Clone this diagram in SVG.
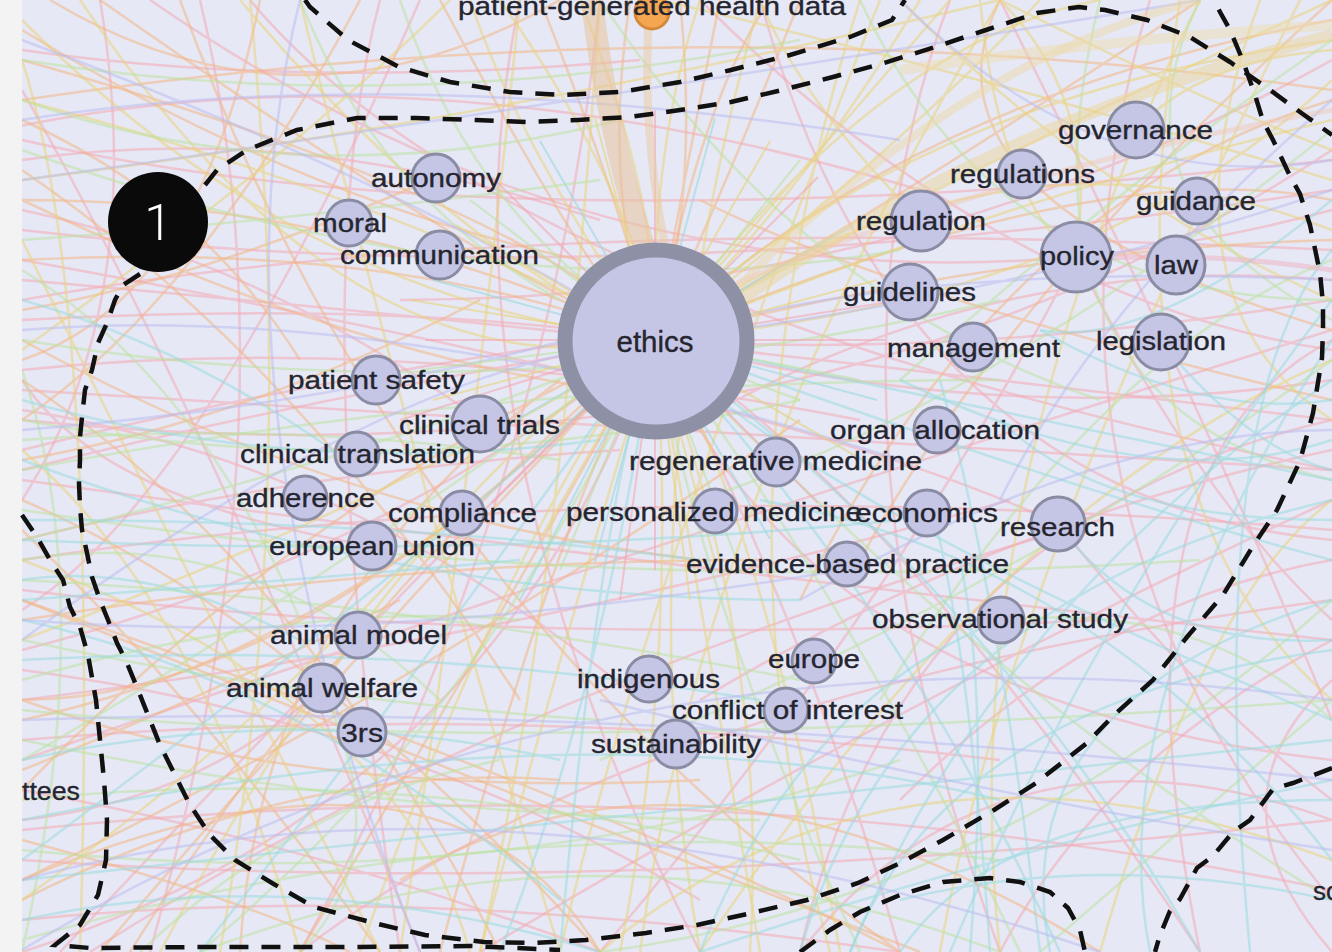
<svg xmlns="http://www.w3.org/2000/svg" width="1332" height="952" viewBox="0 0 1332 952">
<style>
.e{fill:none;stroke-width:2.5;opacity:.55}
.p{stroke:#f2a9b4}.o{stroke:#f3b685}.y{stroke:#ead47a}.g{stroke:#bde2a2}.c{stroke:#9bdade}.l{stroke:#b9bdee}
.d{fill:none;stroke:#111;stroke-width:4.5;stroke-dasharray:19 13}
.n{fill:#c5c6e6;stroke:#8a8ca4;stroke-width:3}
.t{font-family:"Liberation Sans",Arial,sans-serif;font-size:26px;fill:#25252f;stroke:#25252f;stroke-width:.35;text-anchor:middle}
</style>
<rect width="1332" height="952" fill="#e6e8f6"/>
<g id="connectors">
<path class="e p" d="M0,130 Q420,40 920,190M22,300 Q520,210 1332,250M22,450 Q300,380 660,330M22,650 Q380,560 655,340M90,952 Q500,690 1100,520M300,952 Q640,690 1332,600M22,700 Q520,640 1010,500M200,0 Q300,420 150,952M520,0 Q430,420 700,952M800,952 Q900,520 1332,420M22,230 Q620,300 1332,190M22,830 Q700,760 1332,890M22,560 Q620,470 1332,530M655,340 Q960,360 1332,300M655,340 Q1000,430 1332,380M420,0 Q200,500 22,610M1000,0 Q1200,400 1332,720M22,390 Q700,430 1332,470M60,952 Q380,610 655,340M900,952 Q800,600 655,340M22,760 Q600,560 1332,330M150,0 Q700,380 1332,210M22,90 Q200,400 420,952M1332,500 Q900,700 480,952M700,0 Q1000,300 1332,350M22,160 Q300,120 600,220M1332,640 Q1100,760 1000,952"/>
<path class="e p" d="M22,50Q300,90 640,60M22,140Q500,250 1332,160M22,210Q260,260 480,420M22,280Q600,330 1332,420M22,370Q400,330 860,420M22,410Q350,460 640,700M22,480Q600,560 1332,640M22,540Q300,470 620,450M22,590Q500,650 1100,620M22,670Q400,720 700,900M22,740Q500,700 1000,760M22,790Q300,840 600,952M22,860Q600,900 1332,820M22,920Q400,880 900,952M100,0Q150,300 22,500M250,0Q500,300 1332,470M380,0Q300,300 400,952M600,0Q550,500 300,952M760,0Q900,500 1332,540M950,0Q800,400 1000,952M1150,0Q1000,500 1332,900M1332,60Q900,300 400,300M1332,150Q800,500 22,420M1332,280Q1000,250 700,420M1332,340Q1100,460 1200,952M1332,450Q1000,520 700,700M1332,560Q1100,600 900,800M1332,680Q1200,800 1332,952M1332,820Q1000,700 800,952M655,340Q400,300 22,320M655,340Q300,400 22,470M655,340Q800,700 1332,760M655,340Q500,800 22,952M655,340Q900,500 1200,952M1076,257Q900,600 600,952M1076,257Q1200,500 1332,620M1058,524Q800,400 22,260M1058,524Q1200,700 1332,800M322,688Q200,800 22,820M372,546Q100,500 22,380"/>
<path class="e o" d="M22,60 Q520,200 655,340M22,260 Q400,240 655,340M22,790 Q300,500 655,340M130,952 Q350,600 655,340M22,500 Q300,620 600,952M100,0 Q500,280 655,340M655,340 Q700,100 770,0M655,340 Q500,620 300,952M22,170 Q300,360 520,700M22,600 Q500,790 920,952M22,720 Q260,670 480,500M22,880 Q400,700 800,420M240,952 Q260,600 560,380M22,340 Q350,520 700,560M655,340 Q1000,250 1332,240M1332,100 Q1000,200 800,600M22,420 Q200,300 360,0M22,900 Q300,760 560,780"/>
<path class="e o" d="M22,30Q300,200 580,260M22,120Q200,200 300,360M22,200Q400,380 700,400M22,310Q200,280 430,180M22,380Q300,560 500,952M22,460Q250,420 480,300M22,530Q200,700 380,952M22,620Q400,560 760,560M22,700Q300,800 700,780M22,770Q200,700 400,600M22,840Q250,900 350,952M50,0Q300,150 560,0M180,0Q400,600 900,952M260,0Q200,300 22,360M440,0Q600,300 655,340M540,0Q620,200 655,340M630,0Q600,200 655,340M680,0Q700,200 655,340M720,0Q680,200 655,340M800,0Q720,200 655,340M655,340Q350,200 22,200M655,340Q400,600 100,952M655,340Q300,700 22,700M655,340Q560,500 440,952M655,340Q900,200 1200,0M655,340Q1100,150 1332,200M1332,20Q900,100 655,340M1332,0Q1000,300 860,560M1332,400Q900,300 700,200M900,952Q600,800 22,600M600,952Q450,700 22,880M1100,952Q700,700 400,880M1000,0Q900,200 1332,330M22,100Q700,0 1332,90"/>
<path class="e y" d="M655,340 Q650,150 700,0M655,340 Q900,100 1332,40M655,340 Q1000,200 1332,120M655,340 Q880,40 1100,0M655,340 Q680,650 620,952M655,340 Q770,650 750,952M655,340 Q560,650 480,952M300,0 Q420,500 560,952M860,0 Q700,500 830,952M1000,952 Q950,500 1200,0M22,350 Q300,150 450,0M400,952 Q470,500 520,0M655,340 Q820,150 950,0M655,340 Q520,150 470,0M22,640 Q400,500 655,340M1332,180 Q1000,80 660,0M560,952 Q640,600 880,0M700,952 Q620,500 760,0M22,100 Q400,200 655,340M655,340 Q1100,300 1332,80"/>
<path class="e y" d="M22,20Q300,300 655,340M22,240Q150,500 380,952M22,560Q400,700 470,952M80,0Q350,400 655,340M160,952Q400,500 655,340M240,0Q450,250 655,340M360,952Q500,550 655,340M500,0Q640,200 655,340M580,0Q660,200 655,340M760,952Q700,600 655,340M840,952Q760,500 655,340M920,0Q800,200 655,340M1040,0Q900,150 655,340M1332,0Q900,200 655,340M1332,230Q1000,100 655,340M1332,300Q1100,200 900,0M1332,150Q1200,100 1000,0M1180,0Q1100,500 1332,700M1260,0Q1150,300 1332,420M1100,952Q1200,600 1332,500M940,952Q1000,600 1300,0M640,952Q700,500 1000,0M480,952Q560,600 600,0M220,952Q300,500 250,0M22,900Q300,700 460,500M22,450Q200,600 300,952M600,952Q900,700 1332,860M700,952Q1000,500 1332,360M22,180Q500,120 1000,0M22,60Q100,300 80,952M1076,257Q1100,100 1000,0M1136,130Q1200,60 1332,50M921,221Q800,100 760,0M980,0Q1000,200 1076,257"/>
<path class="e g" d="M22,100 Q300,200 620,120M22,420 Q400,490 800,400M22,680 Q300,600 520,620M22,850 Q500,900 900,760M200,952 Q600,800 1000,952M1100,0 Q1000,400 1332,480M22,470 Q500,380 1000,380M22,560 Q250,520 440,700M300,0 Q380,200 560,300M22,270 Q200,380 300,620M655,340 Q400,450 22,540M1332,260 Q1100,350 880,700M655,340 Q850,600 1020,952M22,740 Q400,820 760,820"/>
<path class="e g" d="M22,60Q400,120 800,40M22,150Q500,320 900,250M22,240Q300,220 600,180M22,340Q500,420 1000,300M22,440Q300,420 560,460M22,510Q600,600 1200,560M22,580Q400,600 800,680M22,640Q300,700 600,720M22,710Q500,760 1332,700M22,800Q400,760 800,860M22,940Q500,800 1000,860M140,952Q300,800 500,760M400,0Q500,300 800,400M600,0Q800,300 1100,400M1332,40Q1100,200 900,380M1332,130Q1000,400 700,500M1332,360Q1000,600 600,760M1332,600Q1000,900 600,952M1332,700Q1100,900 1040,952M1200,0Q1100,200 1332,320M860,0Q1000,300 1332,300M655,340Q500,700 200,952M655,340Q1000,700 1332,900M655,340Q300,600 22,760M655,340Q700,600 860,952M1001,620Q1200,600 1332,720M322,688Q400,850 300,952M22,370Q100,600 22,952"/>
<path class="e c" d="M22,520 Q400,520 700,560M22,600 Q300,580 520,560M655,340 Q900,600 1060,952M655,340 Q1100,500 1332,560M850,952 Q950,700 1332,650M1332,300 Q1100,600 950,952M22,880 Q600,820 1332,740M900,380 Q1150,500 1332,440M930,500 Q970,650 990,952M22,620 Q300,680 560,900M655,340 Q480,520 22,860M1332,780 Q1000,850 700,952M760,500 Q1100,560 1332,860M1040,330 Q1200,420 1332,400"/>
<path class="e c" d="M22,460Q400,600 800,600M22,540Q500,560 900,520M22,660Q400,640 760,700M22,760Q300,700 560,760M22,820Q600,700 1000,800M22,920Q300,860 600,952M22,400Q300,480 600,440M22,300Q200,350 360,470M200,952Q400,700 655,340M500,952Q600,700 655,340M700,952Q800,700 1001,620M800,952Q900,600 1332,500M900,952Q1000,800 1332,800M1050,952Q1000,700 1332,600M1150,952Q1100,700 1332,340M1332,250Q1200,400 1250,952M1332,380Q1000,600 850,952M1332,520Q1100,520 1000,420M1332,900Q1100,850 900,900M655,340Q800,500 1332,720M655,340Q1000,600 1200,952M655,340Q950,400 1332,480M655,340Q600,500 560,952M940,380Q1000,600 1040,952M960,560Q990,700 970,952M1058,524Q1150,650 1332,640M1161,342Q1250,450 1332,470M22,580Q150,560 300,640M1332,200Q1150,350 1040,330"/>
<path class="e l" d="M22,40 Q400,180 655,340M22,180 Q600,100 1200,0M22,950 Q600,600 1332,700M1332,190 Q1000,300 655,340M22,330 Q400,300 900,460M22,120Q400,60 900,140M22,430Q400,400 700,300M22,620Q400,650 900,560M22,720Q600,700 1332,780M22,880Q500,750 1100,952M300,0Q200,400 420,952M1332,100Q1100,300 1000,500M1332,430Q1100,430 800,600M1332,850Q1000,800 600,700M900,0Q1100,200 1332,160M655,340Q900,260 1332,280M655,340Q400,360 22,640"/>
<g opacity=".6" stroke-width="2">
<path class="p" d="M655,340L885,340M655,340L818,503M655,340L655,570M655,340L492,503M655,340L425,340M655,340L492,177M655,340L655,110M655,340L818,177M655,340L900,300M655,340L620,600M655,340L400,420"/>
<path class="c" d="M655,340L877,400M655,340L770,539M655,340L595,562M655,340L456,455M655,340L433,280M655,340L540,141M655,340L715,118M655,340L854,225M655,340L880,470M655,340L520,600"/>
<path class="y" d="M655,340L854,455M655,340L715,562M655,340L540,539M655,340L433,400M655,340L456,225M655,340L595,118M655,340L770,141M655,340L877,280M655,340L690,600M655,340L410,300"/>
<path class="g" d="M655,340L860,380M655,340L740,570M655,340L560,570M655,340L420,370M655,340L470,200M655,340L800,160"/>
</g>
<path fill="none" stroke="#e8c39b" stroke-width="22" opacity=".55" d="M645,250 Q605,120 592,0"/>
<path fill="none" stroke="#ecc99e" stroke-width="8" opacity=".5" d="M665,245 Q640,120 650,0"/>
<path fill="none" stroke="#ecd59a" stroke-width="12" opacity=".5" d="M740,300 Q1000,120 1332,35"/>
<path fill="none" stroke="#eed7a0" stroke-width="8" opacity=".45" d="M735,290 Q960,60 1200,0"/>
<path fill="none" stroke="#f0c7b0" stroke-width="5" opacity=".45" d="M720,290 Q1000,170 1332,110"/>
<path fill="none" stroke="#eedcae" stroke-width="10" opacity=".5" d="M900,70 Q1100,40 1332,25"/>
<path fill="none" stroke="#eeb0c0" stroke-width="5" opacity=".5" d="M1080,260 Q1200,250 1332,270"/>
</g>
<rect x="0" y="0" width="22" height="952" fill="#f3f3f4"/>
<g id="boundaries">
<path class="d" d="M305,0 L310,7 L348,40 L399,67 L450,82 L510,92 L561,95 L620,92 L680,82 L731,70 L790,55 L850,37 L892,20 L905,0"/>
<path class="d" d="M205,185 L217,170 L247,150 L297,130 L357,118 L416,118 L476,120 L527,122 L578,120 L629,117 L680,110 L731,102 L782,90 L833,77 L884,63 L935,47 L986,30 L1037,13 L1079,7 L1105,10 L1147,20 L1190,37 L1230,62 L1270,90 L1300,112 L1332,135"/>
<path class="d" d="M140,274 L123,285 L115,300 L107,323 L98,343 L92,370 L85,390 L82,417 L80,437 L80,460 L79,483 L80,507 L82,530 L87,553 L92,577 L100,600 L108,620 L117,643 L127,663 L138,690 L148,715 L160,745 L175,775 L190,805 L210,835 L235,860 L272,883 L314,907 L374,923 L425,935 L484,942 L535,943 L586,940 L646,933 L697,925 L747,914 L807,900 L858,883 L900,863 L943,840 L994,810 L1036,783 L1087,743 L1113,716 L1153,680 L1187,637 L1223,595 L1253,546 L1277,510 L1300,461 L1313,413 L1322,358 L1323,328 L1323,304 L1320,273 L1310,225 L1300,194 L1290,176 L1273,140 L1263,121 L1255,95 L1243,61 L1230,30 L1220,12 L1214,0"/>
<path class="d" d="M22,515 L37,537 L50,560 L63,580 L70,607 L80,627 L88,655 L96,700 L100,740 L104,780 L107,820 L106,860 L98,895 L80,925 L55,945 L90,948 L200,947 L360,947 L470,946 L560,950"/>
<path class="d" d="M800,952 L830,930 L860,912 L900,895 L943,882 L990,878 L1020,882 L1050,892 L1068,908 L1080,930 L1085,952"/>
<path class="d" d="M1332,768 L1293,783 L1273,789 L1250,820 L1233,832 L1213,856 L1197,868 L1180,899 L1170,911 L1160,935 L1155,952"/>
</g>
<g id="badge-1">
<circle cx="158" cy="222" r="50" fill="#0a0a0a"/>
<text x="158" y="240" font-family="Roboto,'Liberation Sans',sans-serif" font-size="50" font-weight="300" fill="#fff" text-anchor="middle">1</text>
</g>
<g id="n-patient-generated-health-data">
<circle cx="652" cy="12" r="17" fill="#f4a650" stroke="#d48a3c" stroke-width="3"/>
<text class="t" x="652" y="15" textLength="388" lengthAdjust="spacingAndGlyphs">patient-generated health data</text>
</g>
<g id="n-ethics">
<circle cx="656" cy="341" r="91" fill="#c5c6e6" stroke="#8e90a6" stroke-width="15"/>
<text class="t" x="655" y="352" textLength="77" lengthAdjust="spacingAndGlyphs" style="font-size:29px">ethics</text>
</g>
<g id="n-autonomy"><circle class="n" cx="436" cy="178" r="24"/><text class="t" x="436" y="187" textLength="130" lengthAdjust="spacingAndGlyphs">autonomy</text></g>
<g id="n-moral"><circle class="n" cx="349" cy="223" r="23"/><text class="t" x="350" y="232" textLength="74" lengthAdjust="spacingAndGlyphs">moral</text></g>
<g id="n-communication"><circle class="n" cx="440" cy="255" r="24"/><text class="t" x="439.5" y="264" textLength="199" lengthAdjust="spacingAndGlyphs">communication</text></g>
<g id="n-patient-safety"><circle class="n" cx="376" cy="380" r="24"/><text class="t" x="376.5" y="389" textLength="177" lengthAdjust="spacingAndGlyphs">patient safety</text></g>
<g id="n-clinical-trials"><circle class="n" cx="480" cy="424" r="28"/><text class="t" x="479.5" y="434" textLength="161" lengthAdjust="spacingAndGlyphs">clinical trials</text></g>
<g id="n-clinical-translation"><circle class="n" cx="357" cy="454" r="22"/><text class="t" x="357.5" y="463" textLength="235" lengthAdjust="spacingAndGlyphs">clinical translation</text></g>
<g id="n-adherence"><circle class="n" cx="305" cy="498" r="22"/><text class="t" x="305.5" y="507" textLength="139" lengthAdjust="spacingAndGlyphs">adherence</text></g>
<g id="n-compliance"><circle class="n" cx="462" cy="513" r="22"/><text class="t" x="462.5" y="522" textLength="149" lengthAdjust="spacingAndGlyphs">compliance</text></g>
<g id="n-european-union"><circle class="n" cx="372" cy="546" r="24"/><text class="t" x="372" y="555" textLength="206" lengthAdjust="spacingAndGlyphs">european union</text></g>
<g id="n-animal-model"><circle class="n" cx="358" cy="635" r="23"/><text class="t" x="358.5" y="644" textLength="177" lengthAdjust="spacingAndGlyphs">animal model</text></g>
<g id="n-animal-welfare"><circle class="n" cx="322" cy="688" r="24"/><text class="t" x="322" y="697" textLength="192" lengthAdjust="spacingAndGlyphs">animal welfare</text></g>
<g id="n-3rs"><circle class="n" cx="362" cy="732" r="24"/><text class="t" x="362" y="742" textLength="42" lengthAdjust="spacingAndGlyphs">3rs</text></g>
<g id="n-indigenous"><circle class="n" cx="649" cy="679" r="23"/><text class="t" x="648.5" y="688" textLength="143" lengthAdjust="spacingAndGlyphs">indigenous</text></g>
<g id="n-europe"><circle class="n" cx="814" cy="661" r="22"/><text class="t" x="814" y="668" textLength="92" lengthAdjust="spacingAndGlyphs">europe</text></g>
<g id="n-conflict-of-interest"><circle class="n" cx="786" cy="710" r="22"/><text class="t" x="787.5" y="719" textLength="231" lengthAdjust="spacingAndGlyphs">conflict of interest</text></g>
<g id="n-sustainability"><circle class="n" cx="676" cy="744" r="24"/><text class="t" x="676" y="753" textLength="170" lengthAdjust="spacingAndGlyphs">sustainability</text></g>
<g id="n-regenerative-medicine"><circle class="n" cx="776" cy="462" r="24"/><text class="t" x="775.5" y="470" textLength="293" lengthAdjust="spacingAndGlyphs">regenerative medicine</text></g>
<g id="n-organ-allocation"><circle class="n" cx="937" cy="430" r="23"/><text class="t" x="935" y="439" textLength="210" lengthAdjust="spacingAndGlyphs">organ allocation</text></g>
<g id="n-personalized-medicine"><circle class="n" cx="715" cy="511" r="22"/><text class="t" x="714" y="521" textLength="296" lengthAdjust="spacingAndGlyphs">personalized medicine</text></g>
<g id="n-economics"><circle class="n" cx="927" cy="513" r="23"/><text class="t" x="926.5" y="522" textLength="143" lengthAdjust="spacingAndGlyphs">economics</text></g>
<g id="n-research"><circle class="n" cx="1058" cy="524" r="27"/><text class="t" x="1057.5" y="536" textLength="115" lengthAdjust="spacingAndGlyphs">research</text></g>
<g id="n-evidence-based-practice"><circle class="n" cx="847" cy="564" r="22"/><text class="t" x="847.5" y="573" textLength="323" lengthAdjust="spacingAndGlyphs">evidence-based practice</text></g>
<g id="n-observational-study"><circle class="n" cx="1001" cy="620" r="23"/><text class="t" x="1000" y="628" textLength="256" lengthAdjust="spacingAndGlyphs">observational study</text></g>
<g id="n-governance"><circle class="n" cx="1136" cy="130" r="28"/><text class="t" x="1135.5" y="139" textLength="155" lengthAdjust="spacingAndGlyphs">governance</text></g>
<g id="n-regulations"><circle class="n" cx="1022" cy="174" r="24"/><text class="t" x="1022.5" y="183" textLength="145" lengthAdjust="spacingAndGlyphs">regulations</text></g>
<g id="n-regulation"><circle class="n" cx="921" cy="221" r="30"/><text class="t" x="921" y="230" textLength="130" lengthAdjust="spacingAndGlyphs">regulation</text></g>
<g id="n-guidance"><circle class="n" cx="1197" cy="201" r="23"/><text class="t" x="1196" y="210" textLength="120" lengthAdjust="spacingAndGlyphs">guidance</text></g>
<g id="n-policy"><circle class="n" cx="1076" cy="257" r="35"/><text class="t" x="1077" y="265" textLength="74" lengthAdjust="spacingAndGlyphs">policy</text></g>
<g id="n-law"><circle class="n" cx="1176" cy="265" r="29"/><text class="t" x="1176" y="274" textLength="44" lengthAdjust="spacingAndGlyphs">law</text></g>
<g id="n-guidelines"><circle class="n" cx="910" cy="292" r="28"/><text class="t" x="909.5" y="301" textLength="133" lengthAdjust="spacingAndGlyphs">guidelines</text></g>
<g id="n-management"><circle class="n" cx="973" cy="347" r="24"/><text class="t" x="973.5" y="357" textLength="173" lengthAdjust="spacingAndGlyphs">management</text></g>
<g id="n-legislation"><circle class="n" cx="1161" cy="342" r="28"/><text class="t" x="1161" y="350" textLength="130" lengthAdjust="spacingAndGlyphs">legislation</text></g>
<g id="partial-labels">
<text class="t" x="22" y="800" style="text-anchor:start" textLength="58" lengthAdjust="spacingAndGlyphs">ttees</text>
<text class="t" x="1313" y="900" style="text-anchor:start">sc</text>
</g>
</svg>
